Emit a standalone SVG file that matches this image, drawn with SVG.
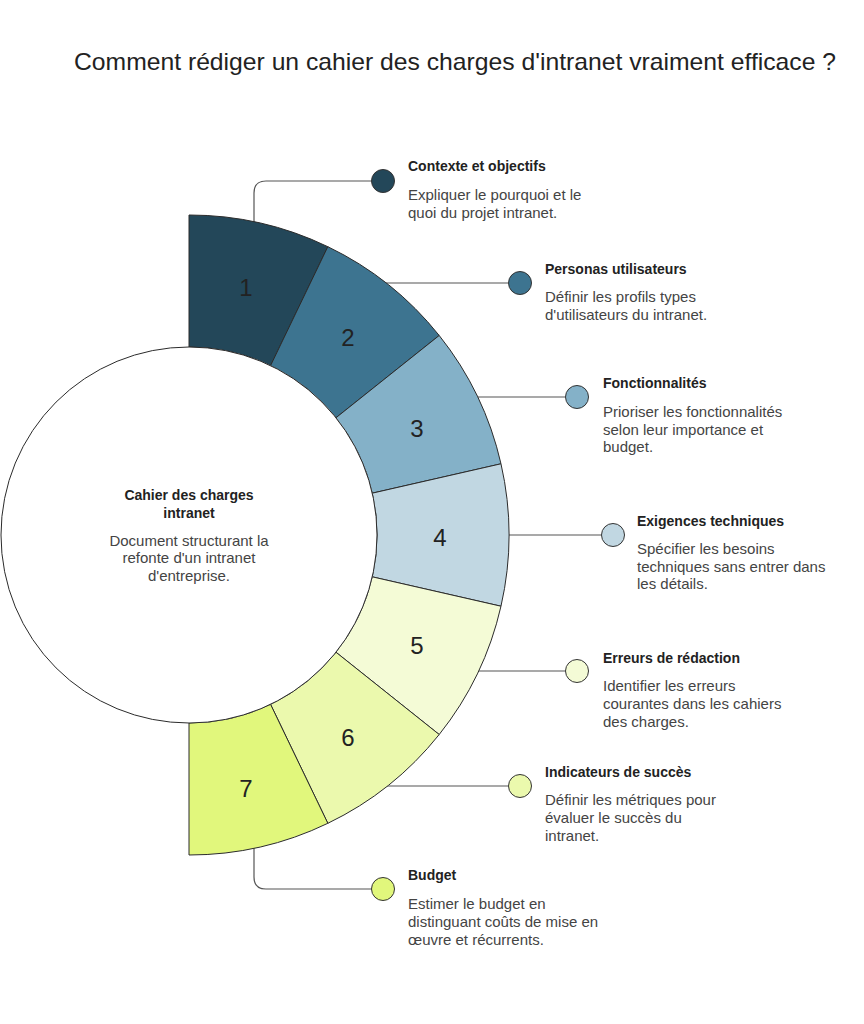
<svg xmlns="http://www.w3.org/2000/svg" width="864" height="1024" viewBox="0 0 864 1024">
<style>
.seg{stroke:#2b2b2b;stroke-width:1}
.num{font-family:"Liberation Sans",Arial,sans-serif;font-size:24px;fill:#222;text-anchor:middle}
.h{font-family:"Liberation Sans",Arial,sans-serif;font-size:14px;font-weight:bold;fill:#222}
.d{font-family:"Liberation Sans",Arial,sans-serif;font-size:15px;fill:#444}
.c{text-anchor:middle}
.conn{fill:none;stroke:#555;stroke-width:1.2}
.dot{stroke:#333;stroke-width:1}
</style>
<rect width="864" height="1024" fill="#fff"/>
<text x="74" y="70" font-family="Liberation Sans,Arial,sans-serif" font-size="24" textLength="762" lengthAdjust="spacingAndGlyphs" fill="#222">Comment rédiger un cahier des charges d'intranet vraiment efficace ?</text>

<g id="connectors">
<path class="conn" d="M254,222 V193 Q254,181 266,181 H371"/>
<path class="conn" d="M386,283 H508"/>
<path class="conn" d="M478,397 H565"/>
<path class="conn" d="M509,535 H601"/>
<path class="conn" d="M478,671 H565"/>
<path class="conn" d="M387,786 H508"/>
<path class="conn" d="M254,848 V877 Q254,889 266,889 H371"/>
</g>

<g id="seg1"><path class="seg" fill="#234759" d="M189,215 A320,320 0 0 1 327.84,246.69 L270.57,365.62 A188,188 0 0 0 189,347 Z"/><text class="num" x="246" y="296">1</text></g>
<g id="seg2"><path class="seg" fill="#3d7490" d="M327.84,246.69 A320,320 0 0 1 439.19,335.48 L335.98,417.78 A188,188 0 0 0 270.57,365.62 Z"/><text class="num" x="348" y="346">2</text></g>
<g id="seg3"><path class="seg" fill="#84b1c8" d="M439.19,335.48 A320,320 0 0 1 500.98,463.79 L372.29,493.17 A188,188 0 0 0 335.98,417.78 Z"/><text class="num" x="417" y="437">3</text></g>
<g id="seg4"><path class="seg" fill="#c1d7e2" d="M500.98,463.79 A320,320 0 0 1 500.98,606.21 L372.29,576.83 A188,188 0 0 0 372.29,493.17 Z"/><text class="num" x="440" y="546">4</text></g>
<g id="seg5"><path class="seg" fill="#f4fbd6" d="M500.98,606.21 A320,320 0 0 1 439.19,734.52 L335.98,652.22 A188,188 0 0 0 372.29,576.83 Z"/><text class="num" x="417" y="654">5</text></g>
<g id="seg6"><path class="seg" fill="#ebf9ad" d="M439.19,734.52 A320,320 0 0 1 327.84,823.31 L270.57,704.38 A188,188 0 0 0 335.98,652.22 Z"/><text class="num" x="348" y="746">6</text></g>
<g id="seg7"><path class="seg" fill="#e1f77c" d="M327.84,823.31 A320,320 0 0 1 189,855 L189,723 A188,188 0 0 0 270.57,704.38 Z"/><text class="num" x="246" y="797">7</text></g>

<g id="center">
<circle cx="189" cy="535" r="188" fill="#fff" stroke="#2b2b2b" stroke-width="1"/>
<text class="h c" x="189" y="500">Cahier des charges</text>
<text class="h c" x="189" y="518">intranet</text>
<text class="d c" x="189" y="546">Document structurant la</text>
<text class="d c" x="189" y="563">refonte d'un intranet</text>
<text class="d c" x="189" y="581">d'entreprise.</text>
</g>

<g id="item1">
<circle class="dot" cx="383" cy="181" r="11.5" fill="#234759"/>
<text class="h" x="408" y="171">Contexte et objectifs</text>
<text class="d" x="408" y="200">Expliquer le pourquoi et le</text>
<text class="d" x="408" y="218">quoi du projet intranet.</text>
</g>
<g id="item2">
<circle class="dot" cx="520" cy="283" r="11.5" fill="#3d7490"/>
<text class="h" x="545" y="274">Personas utilisateurs</text>
<text class="d" x="545" y="302">Définir les profils types</text>
<text class="d" x="545" y="320">d'utilisateurs du intranet.</text>
</g>
<g id="item3">
<circle class="dot" cx="577" cy="397" r="11.5" fill="#84b1c8"/>
<text class="h" x="603" y="388">Fonctionnalités</text>
<text class="d" x="603" y="417">Prioriser les fonctionnalités</text>
<text class="d" x="603" y="435">selon leur importance et</text>
<text class="d" x="603" y="452">budget.</text>
</g>
<g id="item4">
<circle class="dot" cx="613" cy="535" r="11.5" fill="#c1d7e2"/>
<text class="h" x="637" y="526">Exigences techniques</text>
<text class="d" x="637" y="554">Spécifier les besoins</text>
<text class="d" x="637" y="572">techniques sans entrer dans</text>
<text class="d" x="637" y="589">les détails.</text>
</g>
<g id="item5">
<circle class="dot" cx="577" cy="671" r="11.5" fill="#f4fbd6"/>
<text class="h" x="603" y="663">Erreurs de rédaction</text>
<text class="d" x="603" y="691">Identifier les erreurs</text>
<text class="d" x="603" y="709">courantes dans les cahiers</text>
<text class="d" x="603" y="727">des charges.</text>
</g>
<g id="item6">
<circle class="dot" cx="520" cy="786" r="11.5" fill="#ebf9ad"/>
<text class="h" x="545" y="777">Indicateurs de succès</text>
<text class="d" x="545" y="805">Définir les métriques pour</text>
<text class="d" x="545" y="823">évaluer le succès du</text>
<text class="d" x="545" y="841">intranet.</text>
</g>
<g id="item7">
<circle class="dot" cx="383" cy="889" r="11.5" fill="#e1f77c"/>
<text class="h" x="408" y="880">Budget</text>
<text class="d" x="408" y="909">Estimer le budget en</text>
<text class="d" x="408" y="927">distinguant coûts de mise en</text>
<text class="d" x="408" y="945">œuvre et récurrents.</text>
</g>
</svg>
